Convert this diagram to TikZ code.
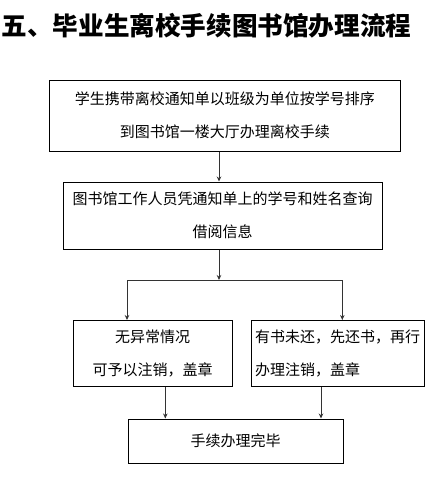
\documentclass[tikz,border=0pt]{standalone}
\usepackage{fontspec}
\setmainfont{Noto Sans CJK SC}
\usetikzlibrary{arrows.meta}
\tikzset{
  box/.style={draw,line width=1pt,inner sep=0pt,font=\fontsize{15}{33}\selectfont},
  flow/.style={->,line width=0.8pt,draw=black!80}
}
\begin{document}
\begin{tikzpicture}[x=1pt,y=-1pt,>={Stealth[length=5pt,width=4.5pt]}]
\useasboundingbox (0,0) rectangle (441,487);
\node[anchor=west,font=\fontsize{25.6}{25.6}\selectfont\bfseries,inner sep=0pt] (title) at (1.5,26) {五、毕业生离校手续图书馆办理流程};
\node[box,minimum width=351pt,minimum height=70.7pt,align=center] (b1) at (224.8,115.7)
  {学生携带离校通知单以班级为单位按学号排序\\到图书馆一楼大厅办理离校手续};
\node[box,minimum width=319.3pt,minimum height=67pt,align=center] (b2) at (222.7,215.5)
  {图书馆工作人员凭通知单上的学号和姓名查询\\借阅信息};
\node[box,minimum width=159pt,minimum height=66pt,align=center] (b3) at (152.5,353.5)
  {无异常情况\\可予以注销，盖章};
\node[box,minimum width=173pt,minimum height=66pt,align=left] (b4) at (337.7,353.5)
  {有书未还，先还书，再行\\办理注销，盖章};
\node[box,minimum width=215pt,minimum height=44pt] (b5) at (235.6,441) {手续办理完毕};
\coordinate (split) at (219,280);
\coordinate (lft) at (127,280);
\coordinate (rgt) at (342.3,280);
\draw[flow] (b1.south -| split) -- (b2.north -| split);
\draw[flow] (b2.south -| split) -- (split);
\draw[line width=0.8pt,draw=black!80] (lft) -- (rgt);
\draw[flow] (lft) -- (lft |- b3.north);
\draw[flow] (rgt) -- (rgt |- b4.north);
\draw[flow] (165.3,0 |- b3.south) -- (165.3,0 |- b5.north);
\draw[flow] (321,0 |- b4.south) -- (321,0 |- b5.north);
\end{tikzpicture}
\end{document}
